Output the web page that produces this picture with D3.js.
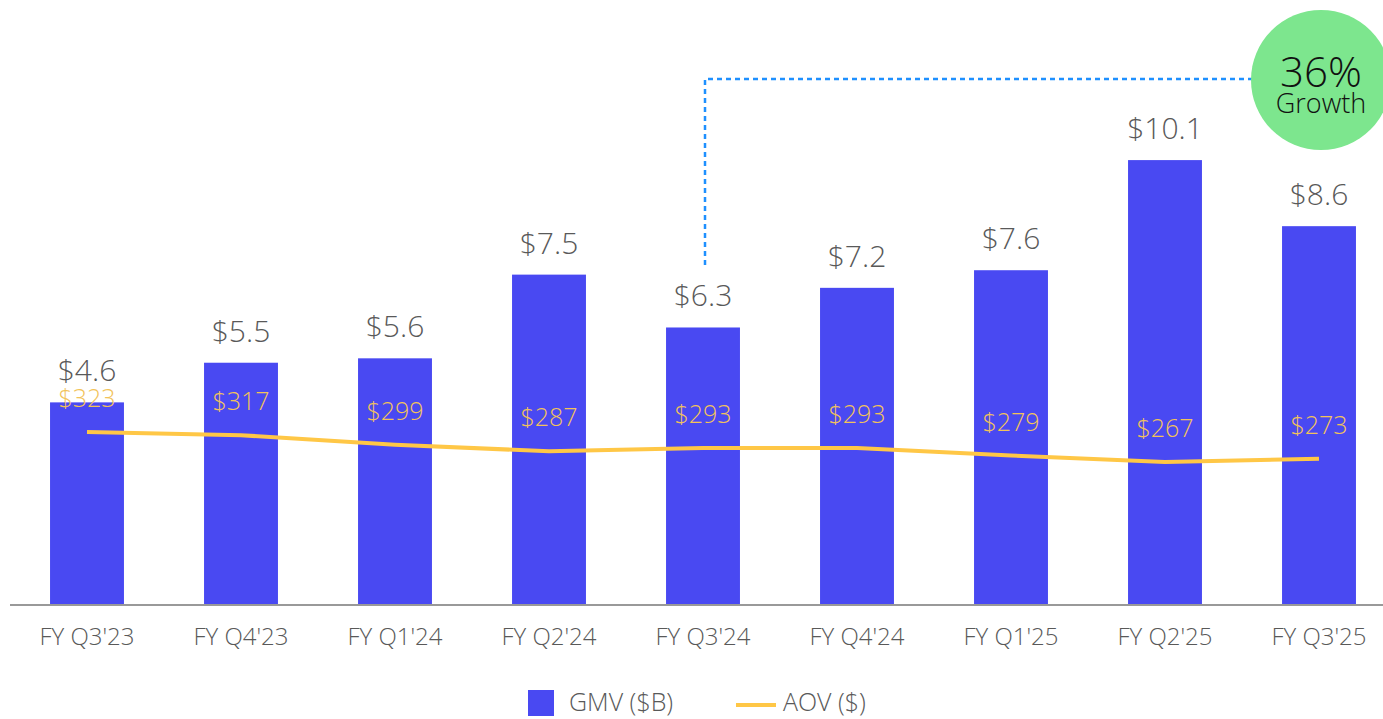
<!DOCTYPE html>
<html>
<head>
<meta charset="utf-8">
<script src="https://cdn.jsdelivr.net/npm/d3@7"></script>
<style>
  body { margin: 0; background: #fff; }
  svg text { font-family: "Open Sans", "Noto Sans", sans-serif; font-weight: 300; }
</style>
</head>
<body>
<svg id="chart" width="1383" height="719"></svg>
<script>
var quarters = ["FY Q3'23", "FY Q4'23", "FY Q1'24", "FY Q2'24", "FY Q3'24", "FY Q4'24", "FY Q1'25", "FY Q2'25", "FY Q3'25"];
var gmv = [4.6, 5.5, 5.6, 7.5, 6.3, 7.2, 7.6, 10.1, 8.6];
var aov = [323, 317, 299, 287, 293, 293, 279, 267, 273];
var growthLabel = ["36%", "Growth"];
var legendLabels = ["GMV ($B)", "AOV ($)"];

var svg = d3.select("#chart"),
    baseY = 605;

var data = quarters.map(function(q, i) { return {q: q, gmv: gmv[i], aov: aov[i]}; });

var x = d3.scaleBand().domain(quarters).range([10, 1396]).paddingInner(0.52).paddingOuter(0.26);
var y = d3.scaleLinear().domain([0, 12]).range([baseY, baseY - 44.05 * 12]);
var y2 = d3.scaleLinear().domain([0, 1000]).range([baseY, baseY - 535.7]);

var barColor = "#4949f2", lineColor = "#ffc746", aovText = "#f2c35a", gray = "#595959";

// bars
svg.selectAll(".bar")
  .data(data)
  .enter().append("rect")
    .attr("class", "bar")
    .attr("x", function(d) { return x(d.q); })
    .attr("y", function(d) { return y(d.gmv); })
    .attr("width", x.bandwidth())
    .attr("height", function(d) { return baseY - y(d.gmv); })
    .attr("fill", barColor);

// x axis
var xAxis = svg.append("g")
    .attr("transform", "translate(0," + baseY + ")")
    .call(d3.axisBottom(x).tickSize(0));
xAxis.select(".domain").attr("d", "M10,0H1383").attr("stroke", "#999").attr("stroke-width", 2);
xAxis.selectAll("text")
    .attr("y", 40)
    .attr("dy", 0)
    .attr("font-size", 24)
    .attr("fill", gray)
    .style("font-family", "'Open Sans', sans-serif")
    .style("font-weight", 300);

// AOV line
var line = d3.line()
    .x(function(d) { return x(d.q) + x.bandwidth() / 2; })
    .y(function(d) { return y2(d.aov); });

svg.append("path")
    .datum(data)
    .attr("d", line)
    .attr("fill", "none")
    .attr("stroke", lineColor)
    .attr("stroke-width", 4);

// GMV labels
svg.selectAll(".gmv-label")
  .data(data)
  .enter().append("text")
    .attr("x", function(d) { return x(d.q) + x.bandwidth() / 2; })
    .attr("y", function(d) { return y(d.gmv) - 21; })
    .attr("text-anchor", "middle")
    .attr("font-size", 30)
    .attr("fill", gray)
    .text(function(d) { return "$" + d.gmv.toFixed(1); });

// AOV labels
svg.selectAll(".aov-label")
  .data(data)
  .enter().append("text")
    .attr("x", function(d) { return x(d.q) + x.bandwidth() / 2; })
    .attr("y", function(d) { return y2(d.aov) - 25; })
    .attr("text-anchor", "middle")
    .attr("font-size", 25)
    .attr("fill", aovText)
    .text(function(d) { return "$" + d.aov; });

// growth callout
var fromX = x(quarters[4]) + x.bandwidth() / 2;
svg.append("path")
    .attr("d", "M" + (fromX + 2) + ",265V79H1255")
    .attr("fill", "none")
    .attr("stroke", "#1e90ff")
    .attr("stroke-width", 2.5)
    .attr("stroke-dasharray", "5,4");

svg.append("circle")
    .attr("cx", 1321).attr("cy", 80).attr("r", 70)
    .attr("fill", "#7de68e");

svg.append("text")
    .attr("x", 1321).attr("y", 87)
    .attr("text-anchor", "middle")
    .attr("font-size", 42)
    .attr("fill", "#111")
    .text(growthLabel[0]);
svg.append("text")
    .attr("x", 1321).attr("y", 113)
    .attr("text-anchor", "middle")
    .attr("font-size", 27)
    .attr("fill", "#111")
    .text(growthLabel[1]);

// legend
var legend = svg.append("g");
legend.append("rect")
    .attr("x", 528).attr("y", 690).attr("width", 26).attr("height", 26)
    .attr("fill", barColor);
legend.append("text")
    .attr("x", 569).attr("y", 711)
    .attr("font-size", 25)
    .attr("fill", gray)
    .text(legendLabels[0]);
legend.append("line")
    .attr("x1", 736).attr("x2", 776).attr("y1", 705).attr("y2", 705)
    .attr("stroke", lineColor).attr("stroke-width", 4);
legend.append("text")
    .attr("x", 783).attr("y", 711)
    .attr("font-size", 25)
    .attr("fill", gray)
    .text(legendLabels[1]);
</script>
</body>
</html>
